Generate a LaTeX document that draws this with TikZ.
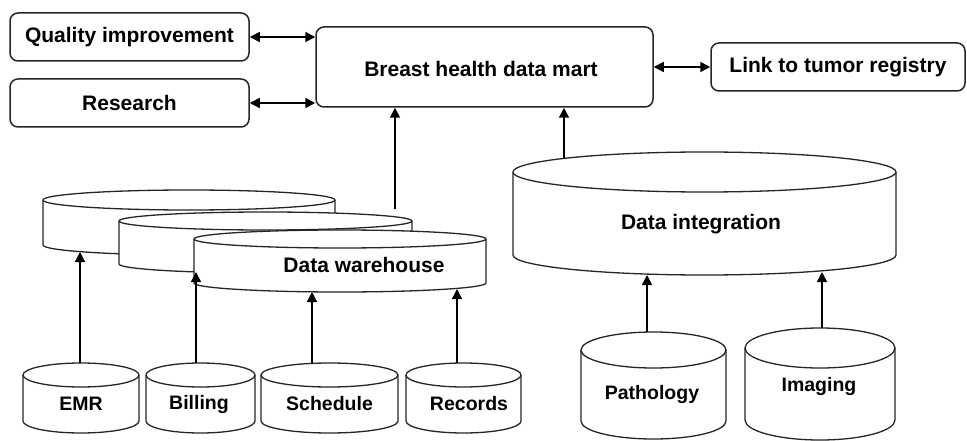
\documentclass[tikz,border=0pt]{standalone}
\usepackage{fontspec}
\setmainfont{Liberation Sans}
\usetikzlibrary{arrows.meta}
\newcommand\dbcyl[5]{%
  \pgfmathsetmacro\dbcx{(#1+#2)/2}%
  \pgfmathsetmacro\dbrx{(#2-#1)/2}%
  \pgfmathsetmacro\dbkx{0.5523*\dbrx}%
  \pgfmathsetmacro\dbky{0.5523*#5}%
  \filldraw[cyl] ({#1},{#3}) -- ({#1},{#4})
    .. controls ({#1},{#4+\dbky}) and ({\dbcx-\dbkx},{#4+#5}) .. ({\dbcx},{#4+#5})
    .. controls ({\dbcx+\dbkx},{#4+#5}) and ({#2},{#4+\dbky}) .. ({#2},{#4})
    -- ({#2},{#3})
    .. controls ({#2},{#3-\dbky}) and ({\dbcx+\dbkx},{#3-#5}) .. ({\dbcx},{#3-#5})
    .. controls ({\dbcx-\dbkx},{#3-#5}) and ({#1},{#3-\dbky}) .. ({#1},{#3}) -- cycle;
  \draw[cyl] ({#1},{#3})
    .. controls ({#1},{#3+\dbky}) and ({\dbcx-\dbkx},{#3+#5}) .. ({\dbcx},{#3+#5})
    .. controls ({\dbcx+\dbkx},{#3+#5}) and ({#2},{#3+\dbky}) .. ({#2},{#3});
}
\begin{document}
\begin{tikzpicture}[x=1pt,y=-1pt,
  box/.style={draw=black!85,line width=1.5pt,rounded corners=8pt,fill=white,
    font=\fontsize{21}{24}\selectfont\bfseries,inner sep=0pt},
  cyl/.style={draw=black!85,line width=1.3pt,fill=white},
  lbl/.style={font=\fontsize{21}{24}\selectfont\bfseries,inner sep=0pt},
  slbl/.style={font=\fontsize{19.5}{23}\selectfont\bfseries,inner sep=0pt},
  arr/.style={line width=1.5pt,-{Triangle[length=10pt,width=10pt]}},
  dbl/.style={line width=1.5pt,{Triangle[length=10pt,width=10pt]}-{Triangle[length=10pt,width=10pt]}}]
\useasboundingbox[fill=white] (0,0) rectangle (967,441);

% top boxes
\node[box,minimum width=239pt,minimum height=48pt] (qi) at (129.5,37) {Quality improvement};
\node[box,minimum width=239pt,minimum height=48pt] (res) at (129.5,103) {Research};
\node[box,minimum width=337pt,minimum height=80pt] (dm) at (484.5,67) {};
\node[lbl] (dmt) at (481,69) {Breast health data mart};
\node[box,minimum width=254pt,minimum height=48pt] (link) at (838,67) {Link to tumor registry};

\draw[dbl] (qi.east) -- (qi.east -| dm.west);
\draw[dbl] (res.east) -- (res.east -| dm.west);
\draw[dbl] (dm.east) -- (link.west);

% data warehouse stack
\dbcyl{43}{335}{200}{245}{10}
\dbcyl{119}{412}{221}{264}{9}
\dbcyl{194}{486}{239}{283}{9}
\node[lbl] (dw) at (364,265) {Data warehouse};

% data integration
\dbcyl{513}{896}{172}{255}{20}
\node[lbl] (di) at (701,224) {Data integration};

% sources
\dbcyl{23}{139}{375}{421}{12}
\dbcyl{146}{255}{375}{421}{12}
\dbcyl{261}{398}{375}{421}{12}
\dbcyl{406}{521}{375}{421}{12}
\dbcyl{581}{726}{350}{421}{18}
\dbcyl{745}{895}{348}{420}{20}
\node[slbl] (emr) at (81,404) {EMR};
\node[slbl] (bill) at (199,404) {Billing};
\node[slbl] (sched) at (329.5,404) {Schedule};
\node[slbl] (rec) at (469,404) {Records};
\node[slbl] (path) at (652,394) {Pathology};
\node[slbl] (img) at (819,386) {Imaging};

% connector end points on cylinder outlines
\coordinate (emrtop) at (80,363);
\coordinate (billtop) at (196,363);
\coordinate (schedtop) at (312,363);
\coordinate (rectop) at (457,363);
\coordinate (pathtop) at (647,332);
\coordinate (imgtop) at (822,328);
\coordinate (dwa) at (80,252);
\coordinate (dwb) at (196,272);
\coordinate (dwc) at (312,292);
\coordinate (dwd) at (457,289);
\coordinate (dia) at (647,275);
\coordinate (dib) at (822,272);
\coordinate (dwout) at (395,209);
\coordinate (diout) at (564,158);

\draw[arr] (emrtop) -- (dwa);
\draw[arr] (billtop) -- (dwb);
\draw[arr] (schedtop) -- (dwc);
\draw[arr] (rectop) -- (dwd);
\draw[arr] (pathtop) -- (dia);
\draw[arr] (imgtop) -- (dib);
\draw[arr] (dwout) -- (dwout |- dm.south);
\draw[arr] (diout) -- (diout |- dm.south);
\end{tikzpicture}
\end{document}
